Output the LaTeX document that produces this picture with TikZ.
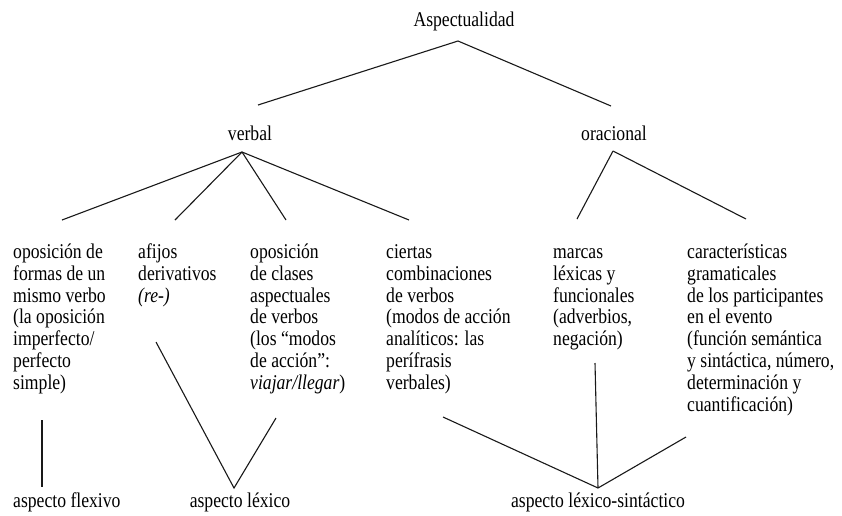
\documentclass[tikz,border=0pt]{standalone}
\usepackage{fontspec}
\setmainfont{Liberation Serif}[FakeStretch=0.84]
\begin{document}
\begin{tikzpicture}[x=1pt,y=-1pt,
  txt/.style={inner sep=0pt, anchor=north west, align=left, font=\fontsize{21}{21.8}\selectfont},
  lbl/.style={inner sep=0pt, anchor=base, font=\fontsize{21}{21.8}\selectfont},
  conn/.style={draw=black!90, line width=1.1pt}]
\useasboundingbox[fill=white] (0,0) rectangle (842,515);
% headings
\node[lbl] (asp) at (464,26) {Aspectualidad};
\node[lbl] (verbal) at (250,140) {verbal};
\node[lbl] (oracional) at (614,140) {oracional};
% boxes
\node[txt] (b1) at (13,243) {\strut oposición de\\formas de un\\mismo verbo\\(la oposición\\imperfecto/\\perfecto\\simple)};
\node[txt] (b2) at (138,243) {\strut afijos\\derivativos\\\textit{(re-)}};
\node[txt] (b3) at (250,243) {\strut oposición\\de clases\\aspectuales\\de verbos\\(los “modos\\de acción”:\\\textit{viajar/llegar})};
\node[txt] (b4) at (386,243) {\strut ciertas\\combinaciones\\de verbos\\(modos de acción\\analíticos: las\\perífrasis\\verbales)};
\node[txt] (b5) at (553,243) {\strut marcas\\léxicas y\\funcionales\\(adverbios,\\negación)};
\node[txt] (b6) at (687,243) {\strut características\\gramaticales\\de los participantes\\en el evento\\(función semántica\\y sintáctica, número,\\determinación y\\cuantificación)};
% bottom labels
\node[lbl, anchor=base west] (flex) at (13,507) {aspecto flexivo};
\node[lbl] (lex) at (240,507) {aspecto léxico};
\node[lbl] (lexsin) at (598,507) {aspecto léxico-sintáctico};
% connector end points
\coordinate (aspT) at (458,41);
\coordinate (verbT) at (258,105);
\coordinate (oracT) at (611,106);
\coordinate (verbB) at (242,152);
\coordinate (oracB) at (613,151);
\coordinate (b1T) at (62,220);
\coordinate (b2T) at (175,220);
\coordinate (b3T) at (286,220);
\coordinate (b4T) at (409,220);
\coordinate (b5T) at (577,219);
\coordinate (b6T) at (746,219);
\coordinate (b1B) at (42,420);
\coordinate (flexT) at (42,487);
\coordinate (b2B) at (156,342);
\coordinate (b3B) at (276,418);
\coordinate (lexT) at (234,488);
\coordinate (b4B) at (443,417);
\coordinate (b5B) at (595,363);
\coordinate (b6B) at (686,437);
\coordinate (lexsinT) at (598,488);
% connectors
\draw[conn] (verbT) -- (aspT) -- (oracT);
\draw[conn] (verbB) -- (b1T);
\draw[conn] (verbB) -- (b2T);
\draw[conn] (verbB) -- (b3T);
\draw[conn] (verbB) -- (b4T);
\draw[conn] (oracB) -- (b5T);
\draw[conn] (oracB) -- (b6T);
\draw[conn] (b1B) -- (flexT);
\draw[conn] (b2B) -- (lexT) -- (b3B);
\draw[conn] (b4B) -- (lexsinT);
\draw[conn] (b5B) -- (lexsinT);
\draw[conn] (b6B) -- (lexsinT);
\end{tikzpicture}
\end{document}
